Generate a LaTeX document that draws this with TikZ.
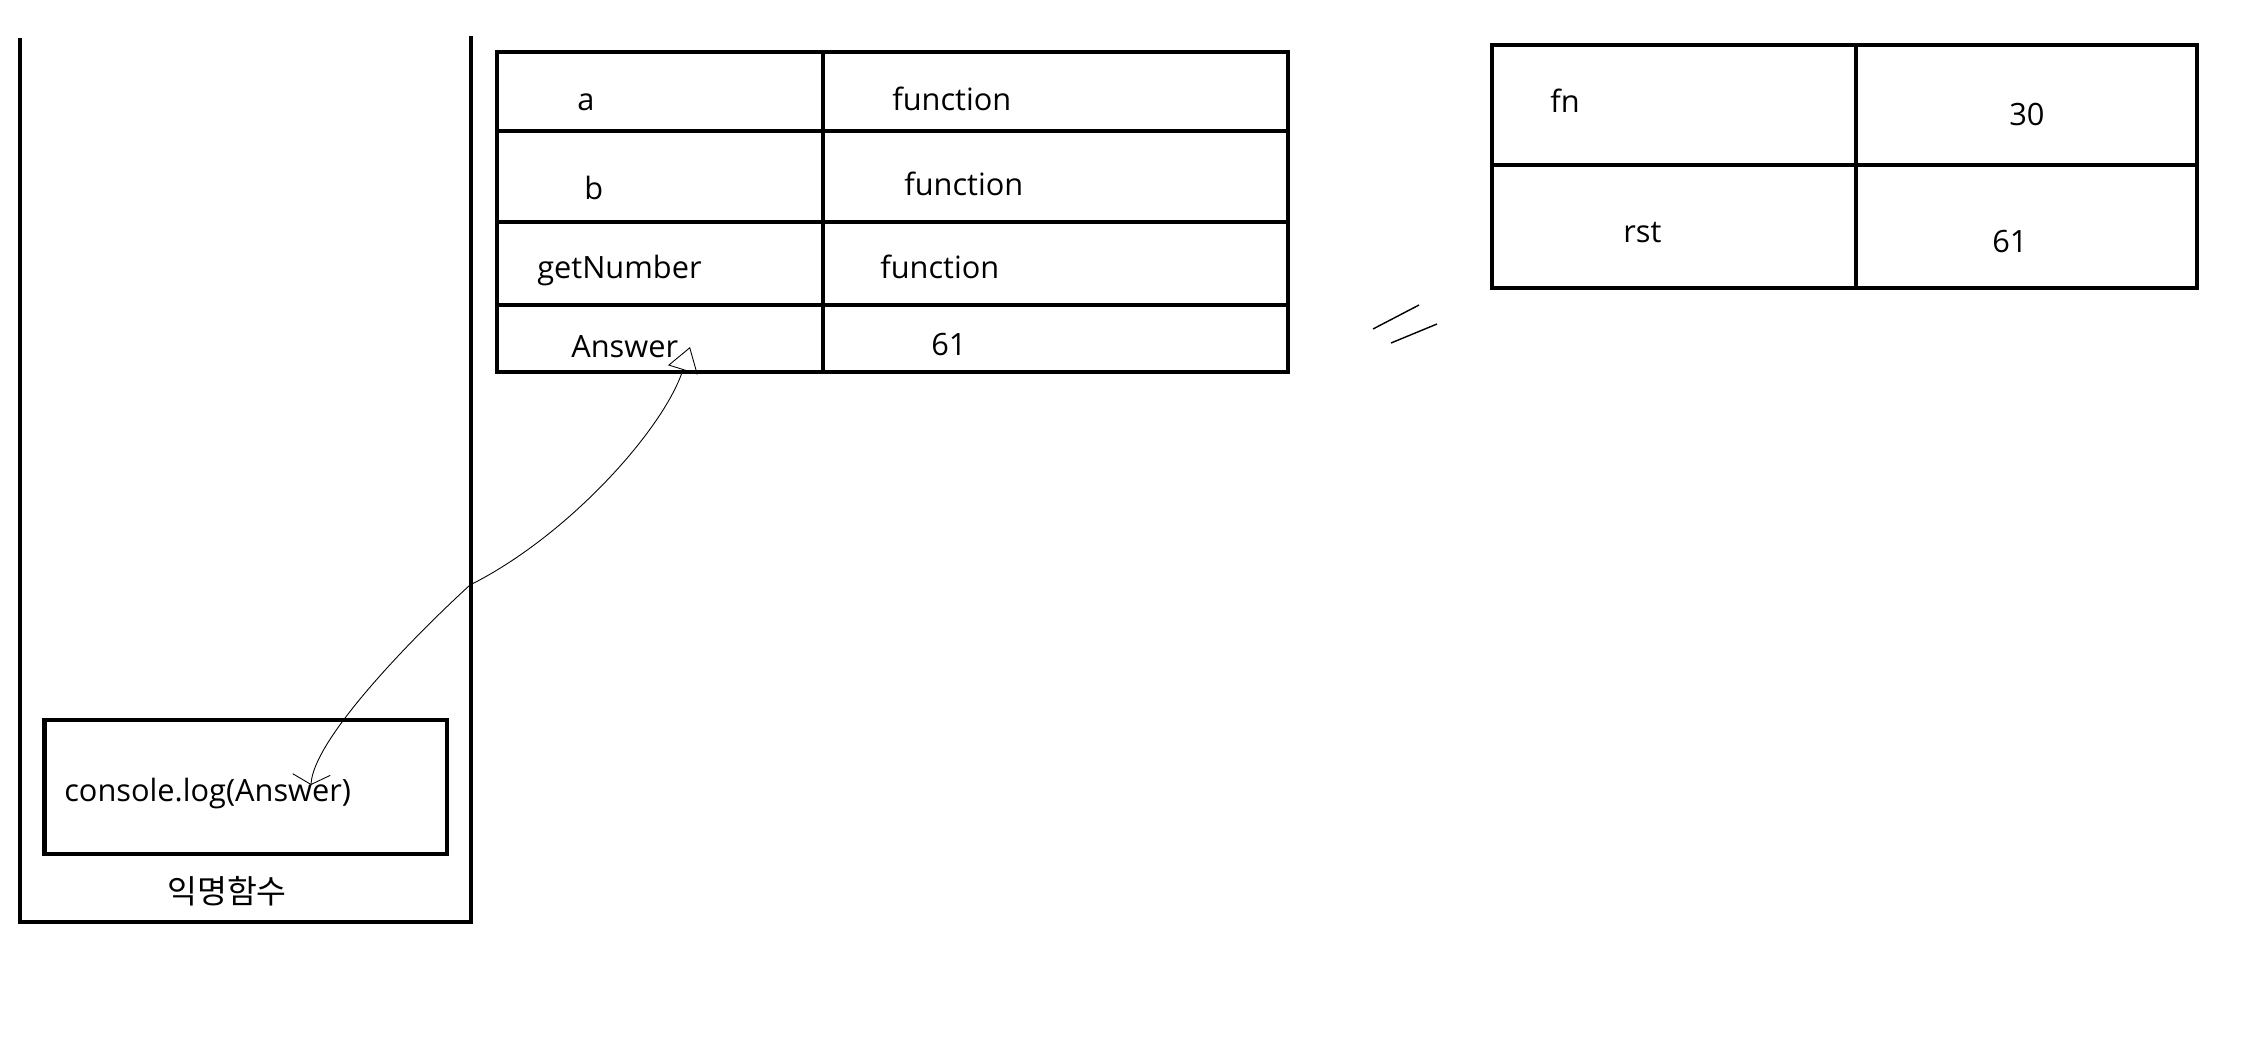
\documentclass[tikz,border=0pt]{standalone}
\usepackage{fontspec}
\setmainfont{Open Sans}
\newfontfamily\krfont{Noto Sans CJK KR}
\usetikzlibrary{positioning, arrows.meta}

\begin{document}
\begin{tikzpicture}[
    x=0.02cm, y=-0.02cm,
    frame/.style={line width=2.8pt},
    txt/.style={inner sep=0pt, anchor=base west, font=\fontsize{17.5}{20}\selectfont},
    link/.style={line width=0.5pt}
]
\useasboundingbox (0,0) rectangle (2253,1058);
% call stack
\draw [frame] (20,38) -- (20,922) -- (471,922) -- (471,36);
\node (logbox) [frame, draw, rectangle, minimum width=8.06cm, minimum height=2.68cm] at (245.5,787) {};
\node (logtxt) [txt] at (64,801) {console.log(Answer)};
\node (anon) [inner sep=0pt, font=\fontsize{18.5}{20}\krfont] at (227,891) {익명함수};
% global scope
\draw [frame] (497,52) rectangle (1288,372);
\draw [frame] (823,52) -- (823,372);
\foreach \y in {131,222,305}
    \draw [frame] (497,\y) -- (1288,\y);
\node (keyA) [txt] at (577,110) {a};
\node (valA) [txt] at (892,110) {function};
\node (keyB) [txt] at (584,199) {b};
\node (valB) [txt] at (904,195) {function};
\node (keyGet) [txt] at (537,278) {getNumber};
\node (valGet) [txt] at (880,278) {function};
\node (keyAns) [txt] at (571,357) {Answer};
\node (valAns) [txt] at (931,355) {61};
% getNumber scope
\draw [frame] (1492,45) rectangle (2197,288);
\draw [frame] (1856,45) -- (1856,288);
\draw [frame] (1492,165) -- (2197,165);
\node (keyFn) [txt] at (1550,112) {fn};
\node (valFn) [txt] at (2009,125) {30};
\node (keyRst) [txt] at (1623,242) {rst};
\node (valRst) [txt] at (1992,252) {61};
% equal marks
\draw [line width=0.8pt] (1373,329) -- (1419,305);
\draw [line width=0.8pt] (1391,343) -- (1437,324);
% reference arrow
\coordinate (logref) at (311,785);
\coordinate (bend) at (470,585);
\coordinate (ansref) at (690,347);
\draw [link, {Straight Barb[length=0.2cm, width=0.75cm]}-{Triangle[open, length=0.48cm, width=0.62cm]}]
    (logref) .. controls +(2,-45) and +(-60,55) .. (bend)
    .. controls +(100,-50) and +(-25,80) .. (ansref);
\end{tikzpicture}
\end{document}
